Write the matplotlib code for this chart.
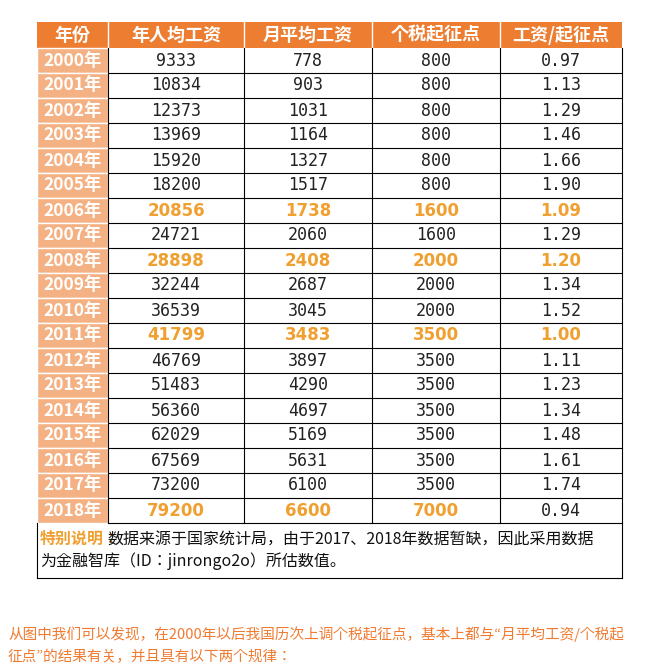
import matplotlib
matplotlib.use("Agg")
import matplotlib.pyplot as plt
from matplotlib.patches import Rectangle
from matplotlib import font_manager as fm

headers = ["年份", "年人均工资", "月平均工资", "个税起征点", "工资/起征点"]
years = [f"{y}年" for y in range(2000, 2019)]
annual = [9333, 10834, 12373, 13969, 15920, 18200, 20856, 24721, 28898, 32244,
          36539, 41799, 46769, 51483, 56360, 62029, 67569, 73200, 79200]
monthly = [778, 903, 1031, 1164, 1327, 1517, 1738, 2060, 2408, 2687,
           3045, 3483, 3897, 4290, 4697, 5169, 5631, 6100, 6600]
threshold = [800]*6 + [1600, 1600, 2000, 2000, 2000] + [3500]*7 + [7000]
ratio = ["0.97", "1.13", "1.29", "1.46", "1.66", "1.90", "1.09", "1.29", "1.20", "1.34",
         "1.52", "1.00", "1.11", "1.23", "1.34", "1.48", "1.61", "1.74", "0.94"]
highlight = {"2006年": 4, "2008年": 4, "2011年": 4, "2018年": 3}

avail = {f.name for f in fm.fontManager.ttflist}
cjk = [n for n in ["Noto Sans CJK SC", "Noto Sans CJK JP", "Noto Sans CJK TC", "Noto Sans CJK KR"] if n in avail]
CJK = cjk[0] if cjk else "DejaVu Sans"
plt.rcParams["font.family"] = CJK

W, H = 652, 670
fig = plt.figure(figsize=(W/100, H/100), dpi=100)
ax = fig.add_axes([0, 0, 1, 1])
ax.set_xlim(0, W); ax.set_ylim(H, 0); ax.axis("off")

cols = [37, 108, 244, 372, 500, 622]
top, hh, rh = 22, 26, 25
HDR = "#ED7D31"; YR = "#F4B183"; HL = "#F0A030"

ax.add_patch(Rectangle((cols[0], top), cols[-1]-cols[0], hh, color=HDR, lw=0))
for i, h in enumerate(headers):
    ax.text((cols[i]+cols[i+1])/2, top+hh/2, h, ha="center", va="center",
            color="white", fontsize=13, fontweight="bold", family=CJK)
    if i > 0:
        ax.plot([cols[i]]*2, [top, top+hh], color="white", lw=1)

y0 = top + hh
for r, yr in enumerate(years):
    ys = y0 + r*rh
    ax.add_patch(Rectangle((cols[0], ys), cols[1]-cols[0], rh, facecolor=YR, edgecolor="white", lw=1))
    ax.text((cols[0]+cols[1])/2, ys+rh/2, yr, ha="center", va="center",
            color="white", fontsize=12.5, fontweight="bold", family=CJK)
    vals = [str(annual[r]), str(monthly[r]), str(threshold[r]), ratio[r]]
    nh = highlight.get(yr, 0)
    for c, v in enumerate(vals):
        hl = c < nh
        ax.text((cols[c+1]+cols[c+2])/2, ys+rh/2, v, ha="center", va="center",
                color=HL if hl else "#222222", fontsize=12,
                fontweight="bold" if hl else "normal",
                family="DejaVu Sans" if hl else "DejaVu Sans Mono")
    ax.plot([cols[1], cols[-1]], [ys+rh]*2, color="black", lw=0.8)
yb = y0 + len(years)*rh
for x in cols[1:]:
    ax.plot([x, x], [y0, yb], color="black", lw=0.8)
for x in (cols[0], cols[-1]):
    ax.plot([x, x], [yb, yb+55], color="black", lw=0.8)
ax.plot([cols[0], cols[-1]], [yb+55]*2, color="black", lw=0.8)

ax.text(40, yb+16, "特别说明：", ha="left", va="center", color=HL, fontsize=11.5,
        fontweight="bold", family=CJK)
ax.text(107, yb+16, "数据来源于国家统计局，由于2017、2018年数据暂缺，因此采用数据",
        ha="left", va="center", color="#111111", fontsize=11.5, family=CJK)
ax.text(40, yb+38, "为金融智库（ID：jinrongo2o）所估数值。", ha="left", va="center",
        color="#111111", fontsize=11.5, family=CJK)

ax.text(8, 634, "从图中我们可以发现，在2000年以后我国历次上调个税起征点，基本上都与“月平均工资/个税起",
        ha="left", va="center", color="#F07A30", fontsize=10.5, family=CJK)
ax.text(8, 657, "征点”的结果有关，并且具有以下两个规律：",
        ha="left", va="center", color="#F07A30", fontsize=10.5, family=CJK)

fig.savefig("out.png", dpi=100, facecolor="white")
